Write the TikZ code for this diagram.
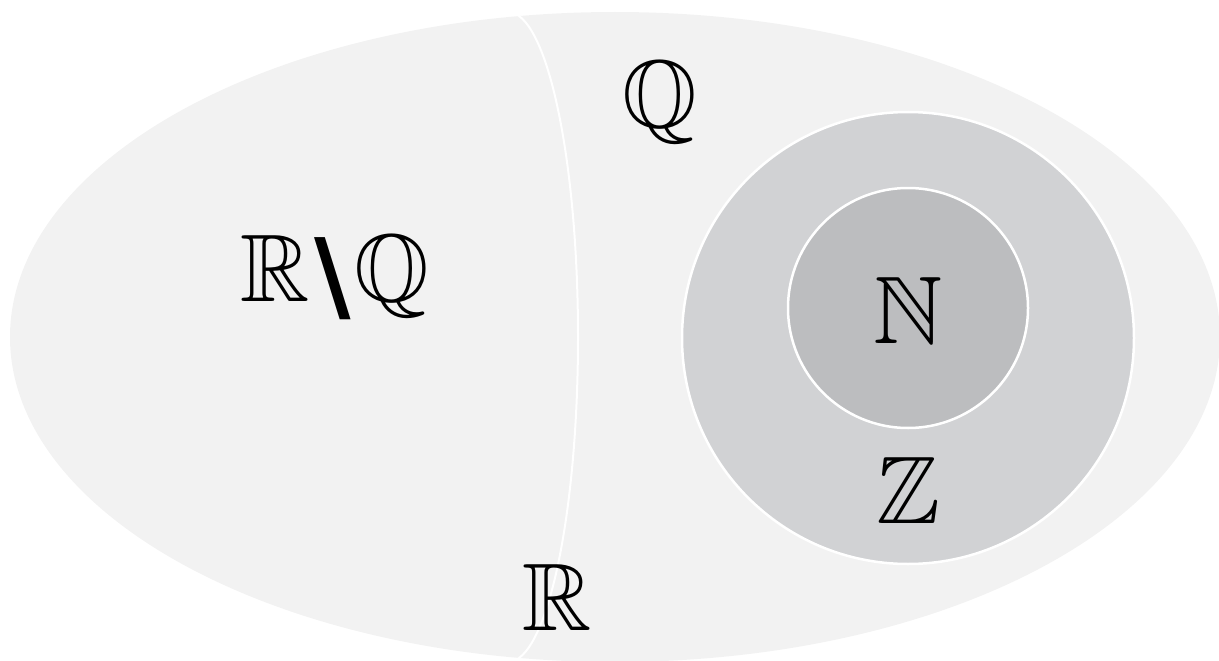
\documentclass[tikz,border=0pt]{standalone}
\usepackage{amssymb}
\usepackage{fontspec}
\newfontfamily\slashfont{DejaVu Sans}
\definecolor{setR}{HTML}{F2F2F2}
\definecolor{setZ}{HTML}{D1D2D4}
\definecolor{setN}{HTML}{BCBDBF}
\begin{document}
\begin{tikzpicture}[x=1pt,y=-1pt,
  setlabel/.style={inner sep=0pt, anchor=base, font=\fontsize{96}{96}\selectfont},
  setline/.style={draw=white, line width=2.5pt}]
\useasboundingbox (0,0) rectangle (1219,661);
\fill[setR] (615,337) ellipse [x radius=605, y radius=325];
\begin{scope}
  \clip (615,337) ellipse [x radius=605, y radius=325];
  \clip (508,0) rectangle (700,661);
  \draw[setline, line width=2pt] (508,337) ellipse [x radius=70, y radius=325];
\end{scope}
\draw[setline, fill=setZ] (908,338) circle [radius=226];
\draw[setline, fill=setN] (908,308) circle [radius=120];
\node[setlabel] (Q) at (660,128) {$\mathbb{Q}$};
\node[setlabel] (RQ) at (335,301) {$\mathbb{R}$\hspace{4pt}{\slashfont\bfseries\fontsize{100}{100}\selectfont\raisebox{-9pt}{\textbackslash}}\hspace{4pt}$\mathbb{Q}$};
\node[setlabel] (N) at (908,343) {$\mathbb{N}$};
\node[setlabel] (Z) at (908,523) {$\mathbb{Z}$};
\node[setlabel] (R) at (557,630) {$\mathbb{R}$};
\end{tikzpicture}
\end{document}
